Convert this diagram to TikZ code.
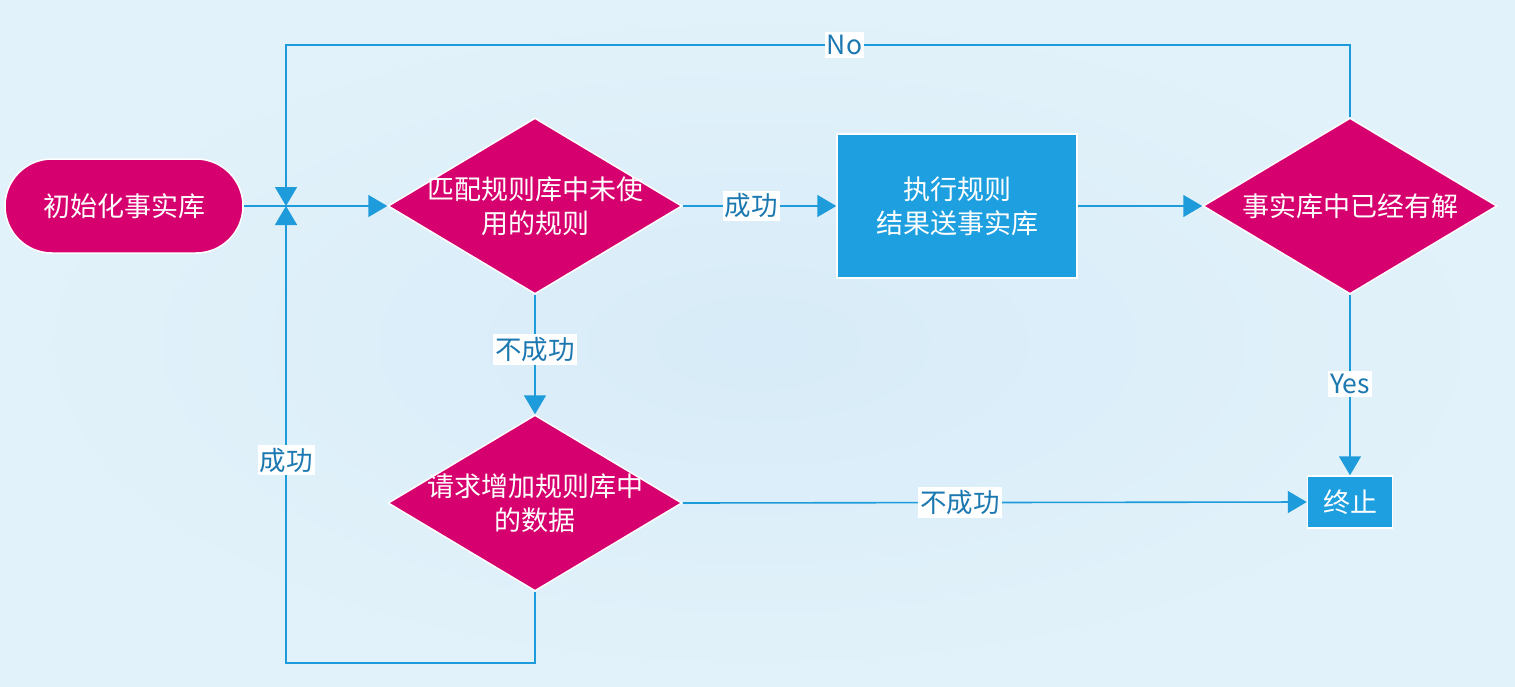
\documentclass[tikz,border=0pt]{standalone}
\usepackage{fontspec}
\newfontfamily\cjk{Noto Sans CJK SC}
\usetikzlibrary{shapes.geometric,arrows.meta}
\definecolor{bgA}{HTML}{E2F2FA}
\definecolor{bgB}{HTML}{D7EBF8}
\definecolor{magenta}{HTML}{D6006E}
\definecolor{boxblue}{HTML}{1E9FE0}
\definecolor{linec}{HTML}{1E9BDA}
\definecolor{lblc}{HTML}{1C78B0}
\tikzset{
  every node/.style={font=\cjk\fontsize{27}{34}\selectfont},
  startbox/.style={rectangle, rounded corners=47pt, fill=magenta, draw=white, line width=1.5pt,
    minimum width=238pt, minimum height=94pt, text=white, inner sep=0pt},
  procbox/.style={rectangle, fill=boxblue, draw=white, line width=1.5pt, text=white,
    align=center, inner sep=0pt},
  decision/.style={diamond, fill=magenta, draw=white, line width=1.5pt, inner sep=0pt,
    minimum width=#1, minimum height=176pt},
  dtext/.style={text=white, align=center, inner sep=0pt},
  conn/.style={draw=linec, line width=1.6pt, -{Triangle[length=19pt,width=22pt]}},
  lbl/.style={fill=white, text=lblc, inner xsep=2pt, inner ysep=3pt, font=\cjk\fontsize{26.5}{30}\selectfont},
}
\begin{document}
\begin{tikzpicture}[x=1pt,y=-1pt]
  % backdrop
  \shade[inner color=bgB, outer color=bgA] (0,0) rectangle (1515,686);
  \useasboundingbox (0,0) rectangle (1515,686);

  % nodes
  \node[startbox] (start) at (124,206) {初始化事实库};
  \coordinate (j) at (286,206);
  \node[decision=294pt] (d1) at (535,206) {};
  \node[dtext] at (d1.center) {匹配规则库中未使\\用的规则};
  \node[procbox, minimum width=240pt, minimum height=144pt] (exec) at (957,206) {执行规则\\结果送事实库};
  \node[decision=294pt] (d3) at (1350,206) {};
  \node[dtext] at (d3.center) {事实库中已经有解};
  \node[decision=294pt] (d2) at (535,503) {};
  \node[dtext] at (d2.center) {请求增加规则库中\\的数据};
  \node[procbox, minimum width=85pt, minimum height=52pt] (stop) at (1350,502) {终止};

  % connectors
  \draw[conn] (start.east) -- (d1.west);
  \draw[conn] (d1.east) -- node[lbl, pos=0.445] {成功} (exec.west);
  \draw[conn] (exec.east) -- (d3.west);
  \draw[conn] (d3.north) -- (1350,45) -- node[lbl, pos=0.475] {No} (286,45) -- (j);
  \draw[conn] (d3.south) -- node[lbl, pos=0.495] {Yes} (stop.north);
  \draw[conn] (d1.south) -- node[lbl, pos=0.46] {不成功} (d2.north);
  \draw[conn] (d2.east) -- node[lbl, pos=0.444] {不成功} (stop.west);
  \draw[conn] (d2.south) -- (535,663) -- (286,663) -- node[lbl, pos=0.444] {成功} (j);
\end{tikzpicture}
\end{document}
